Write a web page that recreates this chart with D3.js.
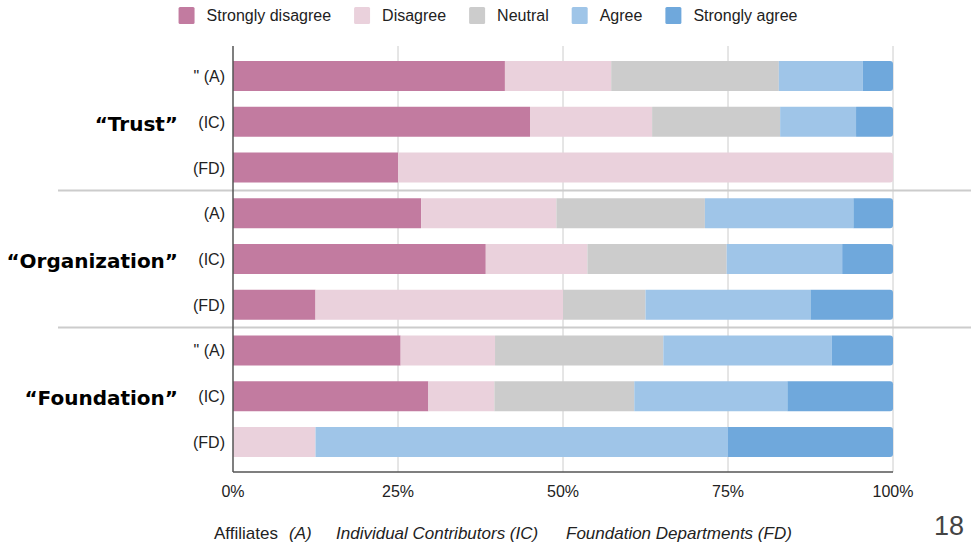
<!DOCTYPE html>
<html>
<head>
<meta charset="utf-8">
<script src="https://cdn.jsdelivr.net/npm/d3@7"></script>
<style>
  body { margin: 0; background: #fff; }
  text { font-family: "Liberation Sans", Arial, sans-serif; }
</style>
</head>
<body>
<div class="chart"></div>
<script>
var width = 971;
var height = 542;

// categories, in draw order (top to bottom)
var groups = ["\u201CTrust\u201D", "\u201COrganization\u201D", "\u201CFoundation\u201D"];
var rowLabels = ["\" (A)", "(IC)", "(FD)", "(A)", "(IC)", "(FD)", "\" (A)", "(IC)", "(FD)"];
var responses = ["Strongly disagree", "Disagree", "Neutral", "Agree", "Strongly agree"];
var colors = ["#c27ba0", "#ead1dc", "#cccccc", "#9fc5e8", "#6fa8dc"];

// share of answers (%) per row, one array per response level
var stronglyDisagree = [41.2, 45.0, 25.0, 28.5, 38.3, 12.5, 25.4, 29.6, 0];
var disagree         = [16.1, 18.5, 75.0, 20.5, 15.4, 37.5, 14.3, 10.0, 12.5];
var neutral          = [25.4, 19.4, 0,    22.5, 21.1, 12.5, 25.5, 21.2, 0];
var agree            = [12.7, 11.5, 0,    22.5, 17.5, 25.0, 25.5, 23.2, 62.5];
var stronglyAgree    = [4.6,  5.6,  0,    6.0,  7.7,  12.5, 9.3,  16.0, 25.0];

var xTicks = [0, 25, 50, 75, 100];

var series = [stronglyDisagree, disagree, neutral, agree, stronglyAgree];

// build table for the stack
var table = rowLabels.map(function(lab, i) {
	var row = { id: i, label: lab };
	responses.forEach(function(r, k) { row[r] = series[k][i]; });
	return row;
});

var svg = d3.select(".chart")
	.append("svg")
	.attr("width", width)
	.attr("height", height);

var x = d3.scaleLinear().domain([0, 100]).range([233, 893]);
var y = d3.scaleBand()
	.domain(d3.range(rowLabels.length))
	.range([46, 472])
	.paddingInner(0.344)
	.paddingOuter(0.328);

// gridlines
svg.append("g")
	.selectAll("line")
	.data(xTicks.slice(1))
	.enter()
	.append("line")
	.attr("x1", function(d) { return x(d); })
	.attr("x2", function(d) { return x(d); })
	.attr("y1", 46)
	.attr("y2", 472)
	.attr("stroke", "#cccccc")
	.attr("stroke-width", 1);

// group separators
var step = y.step();
[3, 6].forEach(function(i) {
	var yy = y(i) - (step - y.bandwidth()) / 2;
	svg.append("line")
		.attr("x1", 58).attr("x2", 971)
		.attr("y1", yy).attr("y2", yy)
		.attr("stroke", "#cccccc")
		.attr("stroke-width", 2);
});

// bars
var stack = d3.stack().keys(responses);
var stacked = stack(table);

// last non-empty segment per row gets rounded right end
var lastKey = table.map(function(row) {
	var k = -1;
	responses.forEach(function(r, j) { if (row[r] > 0) k = j; });
	return k;
});

stacked.forEach(function(layer, k) {
	svg.append("g")
		.attr("fill", colors[k])
		.selectAll("path")
		.data(layer.filter(function(d) { return d[1] - d[0] > 0; }))
		.enter()
		.append("path")
		.attr("d", function(d) {
			var x0 = x(d[0]), x1 = x(d[1]);
			var y0 = y(d.data.id), h = y.bandwidth();
			var r = lastKey[d.data.id] === k ? 3 : 0;
			return "M" + x0 + "," + y0 +
				"H" + (x1 - r) +
				(r ? "Q" + x1 + "," + y0 + " " + x1 + "," + (y0 + r) : "") +
				"V" + (y0 + h - r) +
				(r ? "Q" + x1 + "," + (y0 + h) + " " + (x1 - r) + "," + (y0 + h) : "") +
				"H" + x0 + "Z";
		});
});

// axis lines
svg.append("line")
	.attr("x1", 233).attr("x2", 233)
	.attr("y1", 46).attr("y2", 472)
	.attr("stroke", "#555").attr("stroke-width", 1.5);
svg.append("line")
	.attr("x1", 233).attr("x2", 893)
	.attr("y1", 472).attr("y2", 472)
	.attr("stroke", "#555").attr("stroke-width", 1.5);

// x tick labels
svg.append("g")
	.selectAll("text")
	.data(xTicks)
	.enter()
	.append("text")
	.attr("x", function(d) { return x(d); })
	.attr("y", 497)
	.attr("text-anchor", "middle")
	.attr("font-size", 16)
	.attr("fill", "#222")
	.text(function(d) { return d + "%"; });

// row labels
svg.append("g")
	.selectAll("text")
	.data(rowLabels)
	.enter()
	.append("text")
	.attr("x", 225)
	.attr("y", function(d, i) { return y(i) + y.bandwidth() / 2 + 6; })
	.attr("text-anchor", "end")
	.attr("font-size", 16)
	.attr("fill", "#222")
	.text(function(d) { return d; });

// group labels
svg.append("g")
	.selectAll("text")
	.data(groups)
	.enter()
	.append("text")
	.attr("x", 178)
	.attr("y", function(d, i) { return y(i * 3 + 1) + y.bandwidth() / 2 + 9; })
	.attr("text-anchor", "end")
	.attr("font-size", 20)
	.attr("font-weight", "bold")
	.style("font-family", "'DejaVu Sans', sans-serif")
	.attr("fill", "#000")
	.text(function(d) { return d; });

// legend
var legend = svg.append("g");
var lx = 0;
responses.forEach(function(r, k) {
	var g = legend.append("g").attr("transform", "translate(" + lx + ",0)");
	g.append("rect")
		.attr("x", 0).attr("y", 7)
		.attr("width", 16).attr("height", 17)
		.attr("rx", 1.5)
		.attr("fill", colors[k]);
	var t = g.append("text")
		.attr("x", 28).attr("y", 21)
		.attr("font-size", 16)
		.attr("fill", "#222")
		.text(r);
	lx += 28 + t.node().getComputedTextLength() + 23;
});
var legendW = lx - 23;
legend.attr("transform", "translate(" + (488 - legendW / 2) + ",0)");

// footer note
var foot = svg.append("text")
	.attr("x", 214)
	.attr("y", 539)
	.attr("font-size", 17)
	.attr("fill", "#222");
foot.append("tspan").text("Affiliates");
foot.append("tspan").attr("x", 289).attr("font-style", "italic").text("(A)");
foot.append("tspan").attr("x", 336).attr("font-style", "italic").text("Individual Contributors (IC)");
foot.append("tspan").attr("x", 566).attr("font-style", "italic").text("Foundation Departments (FD)");

// slide number
svg.append("text")
	.attr("x", 964)
	.attr("y", 535)
	.attr("text-anchor", "end")
	.attr("font-size", 27)
	.attr("fill", "#444")
	.text("18");
</script>
</body>
</html>
